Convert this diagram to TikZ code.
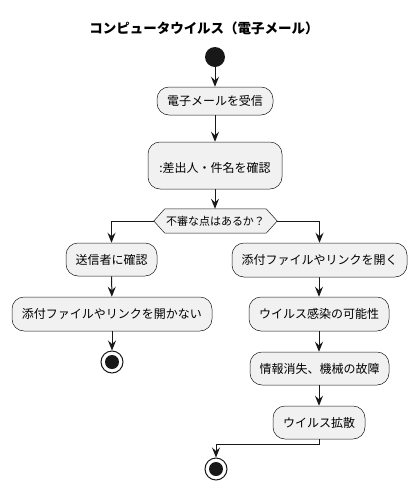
\documentclass[tikz,border=0pt]{standalone}
\usepackage{fontspec}
\setmainfont{Noto Sans CJK JP}
\usetikzlibrary{arrows.meta,calc}
\definecolor{boxfill}{HTML}{F1F1F1}
\definecolor{boxline}{HTML}{181818}
\begin{document}
\begin{tikzpicture}[x=1pt,y=-1pt,
  act/.style={draw=boxline,line width=0.5pt,fill=boxfill,rounded corners=12pt,
    inner sep=0pt,font=\fontsize{12}{14}\selectfont,align=center},
  arr/.style={draw=boxline,line width=1pt,-{Stealth[length=10pt,width=8pt,inset=3.5pt]}},
  ln/.style={draw=boxline,line width=1pt}]
\useasboundingbox (0,0) rectangle (417,491);
\node[font=\fontsize{13.5}{16}\selectfont\bfseries] (title) at (204,28) {コンピュータウイルス（電子メール）};
\node[circle,fill=boxline,minimum size=20pt,inner sep=0pt] (start) at (215,57) {};
\node[act,minimum width=116pt,minimum height=28pt] (b1) at (215,101) {電子メールを受信};
\node[act,minimum width=134pt,minimum height=47pt] (b2) at (215,165.5) {\mbox{}\\:差出人・件名を確認};
\node[inner sep=0pt,minimum width=123pt,minimum height=24pt,font=\fontsize{11}{13}\selectfont] (d) at (215.5,221) {不審な点はあるか？};
\draw[boxline,line width=0.5pt,fill=boxfill] (d.west) -- ([xshift=11pt]d.north west) -- ([xshift=-11pt]d.north east) -- (d.east) -- ([xshift=-11pt]d.south east) -- ([xshift=11pt]d.south west) -- cycle;
\node[inner sep=0pt,font=\fontsize{11}{13}\selectfont] at (d) {不審な点はあるか？};
\node[act,minimum width=91pt,minimum height=33pt] (l1) at (111.5,259.5) {送信者に確認};
\node[act,minimum width=200pt,minimum height=34pt] (l2) at (112,314) {添付ファイルやリンクを開かない};
\node[circle,draw=boxline,line width=1pt,fill=white,minimum size=22pt,inner sep=0pt] (lend) at (112,362) {};
\fill[boxline] (lend) circle (7pt);
\node[act,minimum width=175pt,minimum height=34pt] (r1) at (319.5,260) {添付ファイルやリンクを開く};
\node[act,minimum width=140pt,minimum height=34pt] (r2) at (319,314) {ウイルス感染の可能性};
\node[act,minimum width=139pt,minimum height=33pt] (r3) at (319.5,368.5) {情報消失、機械の故障};
\node[act,minimum width=92pt,minimum height=33pt] (r4) at (319,422.5) {ウイルス拡散};
\node[circle,draw=boxline,line width=1pt,fill=white,minimum size=22pt,inner sep=0pt] (rend) at (216,469) {};
\fill[boxline] (rend) circle (7pt);
\draw[arr] (start) -- (b1);
\draw[arr] (b1) -- (b2);
\draw[arr] (b2) -- (d.north -| b2);
\draw[arr] (d.west) -| (l1.north);
\draw[arr] (d.east) -| (r1.north);
\draw[arr] (l1) -- (l2);
\draw[arr] (l2) -- (lend);
\draw[arr] (r1) -- (r2 |- r1.south) -- (r2);
\draw[arr] (r2) -- (r3.north -| r2);
\draw[arr] (r3.south -| r4) -- (r4);
\draw[arr] (r4.south) -- ++(0,5) -| (rend.north);
\end{tikzpicture}
\end{document}
